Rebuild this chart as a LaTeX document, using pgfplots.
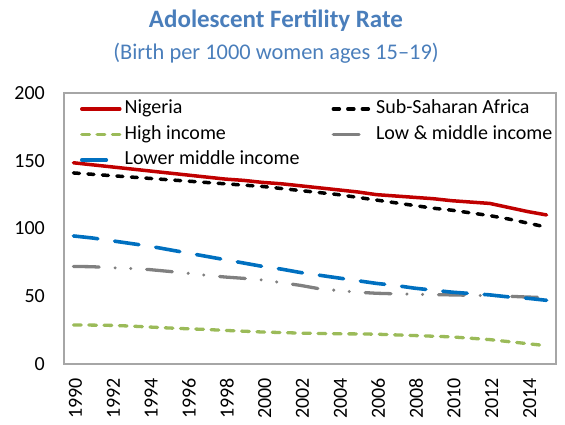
\documentclass[border=0pt]{standalone}
\usepackage{pgfplots}
\pgfplotsset{compat=1.18}
\usepackage{fontspec}
\setmainfont{Carlito}
\definecolor{ttl}{RGB}{74,126,187}
\definecolor{nig}{RGB}{192,0,0}
\definecolor{hic}{RGB}{155,187,89}
\definecolor{lmi}{RGB}{128,128,128}
\definecolor{lowm}{RGB}{0,112,192}
\definecolor{axc}{RGB}{166,166,166}
\begin{document}
\begin{tikzpicture}
\useasboundingbox (-64pt,-61pt) rectangle (501pt,364pt);
\begin{axis}[
  at={(0pt,0pt)}, anchor=south west,
  scale only axis, width=492pt, height=271pt,
  xmin=1989.5, xmax=2015.5, ymin=0, ymax=200,
  xtick={1990,1992,...,2014}, ytick={0,50,...,200},
  major tick length=0pt,
  axis line style={draw=axc, line width=1.2pt},
  /pgf/number format/1000 sep={},
  /pgf/number format/assume math mode=true,
  tick label style={font=\fontsize{20}{24}\selectfont},
  xticklabel style={yshift=-14pt, xshift=2pt, rotate=90, anchor=east, inner sep=0pt},
  yticklabel style={inner sep=0pt, xshift=-19pt},
  legend columns=2,
  legend cell align=left,
  legend image code/.code={\draw[#1] (0pt,0pt) -- (38pt,0pt);},
  legend style={at={(0,1)}, anchor=north west, xshift=16pt, yshift=-5pt,
    draw=none, fill=none, inner sep=0pt, outer sep=0pt,
    font=\fontsize{20}{24}\selectfont, row sep=3.5pt,
    nodes={inner xsep=2pt, inner ysep=2pt, text height=14pt, text depth=4pt},
    /tikz/every odd column/.append style={column sep=1pt}},
]
\addplot[nig, line width=3.5pt, line cap=round, line join=round] coordinates {
(1990,148.5)(1991,147)(1992,145.5)(1993,144)(1994,142.5)(1995,141)(1996,139.5)(1997,138)(1998,136.5)(1999,135.5)(2000,134)(2001,133)(2002,131.5)(2003,130)(2004,128.5)(2005,127)(2006,125)(2007,124)(2008,123)(2009,122)(2010,120.5)(2011,119.5)(2012,118.5)(2013,115.5)(2014,112.5)(2015,110)};
\addlegendentry{\makebox[205pt][l]{Nigeria}}
\addplot[black, line width=3.5pt, line cap=round, line join=round, dash pattern=on 6pt off 8.5pt] coordinates {
(1990,141)(1991,140)(1992,139)(1993,138)(1994,137)(1995,136)(1996,135)(1997,134)(1998,133)(1999,132)(2000,131)(2001,129.5)(2002,128)(2003,126.5)(2004,125)(2005,123)(2006,121)(2007,119)(2008,117)(2009,115)(2010,113.5)(2011,111.5)(2012,109.5)(2013,107)(2014,104)(2015,101)};
\addlegendentry{Sub-Saharan Africa}
\addplot[hic, line width=3.3pt, line cap=round, line join=round, dash pattern=on 7.7pt off 7.6pt] coordinates {
(1990,28.8)(1991,28.7)(1992,28.5)(1993,28)(1994,27.3)(1995,26.6)(1996,26)(1997,25.5)(1998,24.8)(1999,24.2)(2000,23.6)(2001,23.2)(2002,22.8)(2003,22.5)(2004,22.3)(2005,22.2)(2006,22)(2007,21.5)(2008,21)(2009,20.5)(2010,20)(2011,19)(2012,18)(2013,16.5)(2014,15)(2015,13.5)};
\addlegendentry{\makebox[205pt][l]{High income}}
\addplot[lmi, line width=3.3pt, line cap=round, line join=round, dash pattern=on 25.7pt off 16pt on 0pt off 15.6pt on 0pt off 16pt] coordinates {
(1990,72)(1991,71.8)(1992,71)(1993,70.5)(1994,69.7)(1995,68.4)(1996,67)(1997,65.5)(1998,64.2)(1999,63.2)(2000,62)(2001,60)(2002,58)(2003,55.5)(2004,54.2)(2005,53)(2006,52.2)(2007,51.8)(2008,51.5)(2009,51.2)(2010,51)(2011,50.7)(2012,50.4)(2013,50)(2014,49.4)(2015,49)};
\addlegendentry{Low \& middle income}
\addplot[lowm, line width=3.6pt, line cap=round, line join=round, dash pattern=on 24.5pt off 17pt] coordinates {
(1990,94.5)(1991,93)(1992,91)(1993,89)(1994,87)(1995,84.5)(1996,82)(1997,79.5)(1998,77)(1999,74.5)(2000,72)(2001,70)(2002,67.5)(2003,65.5)(2004,63.5)(2005,61.5)(2006,59.5)(2007,58)(2008,56)(2009,54.5)(2010,53)(2011,52)(2012,51)(2013,49.5)(2014,48.5)(2015,47)};
\addlegendentry{\makebox[205pt][l]{Lower middle income}}
\end{axis}
\node[anchor=base, text=ttl, font=\fontsize{25}{30}\selectfont\bfseries] at (212pt,336pt) {Adolescent Fertility Rate};
\node[anchor=base, text=ttl, font=\fontsize{22.4}{27}\selectfont] at (212pt,304pt) {(Birth per 1000 women ages 15–19)};
\end{tikzpicture}
\end{document}
